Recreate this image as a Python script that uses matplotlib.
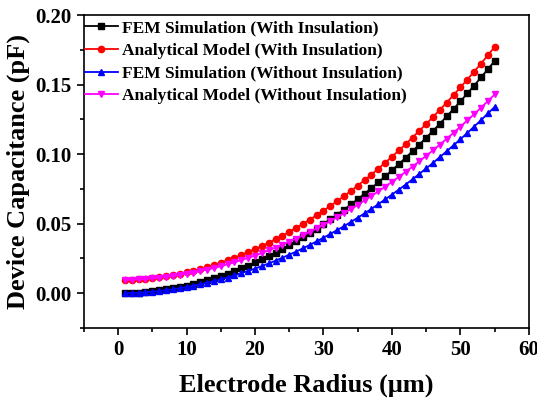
import matplotlib
matplotlib.use("Agg")
import matplotlib.pyplot as plt
from matplotlib.ticker import MultipleLocator

plt.rcParams['font.family'] = ['Liberation Serif', 'DejaVu Serif']
plt.rcParams['font.weight'] = 'bold'

# Electrode radius (um)
radius = list(range(1, 56))

fem_ins = [0.0001, 0.0002, 0.0005, 0.0009, 0.0014, 0.0020, 0.0027, 0.0035, 0.0045, 0.0055,
           0.0067, 0.0079, 0.0093, 0.0108, 0.0124, 0.0141, 0.0160, 0.0179, 0.0199, 0.0221,
           0.0243, 0.0267, 0.0292, 0.0318, 0.0345, 0.0373, 0.0402, 0.0433, 0.0464, 0.0497,
           0.0530, 0.0565, 0.0601, 0.0638, 0.0676, 0.0715, 0.0756, 0.0797, 0.0840, 0.0883,
           0.0928, 0.0974, 0.1021, 0.1069, 0.1118, 0.1168, 0.1219, 0.1272, 0.1325, 0.1380,
           0.1436, 0.1493, 0.1551, 0.1610, 0.1670]

ana_ins = [0.0096, 0.0097, 0.0100, 0.0104, 0.0109, 0.0115, 0.0122, 0.0130, 0.0140, 0.0150,
           0.0162, 0.0175, 0.0189, 0.0204, 0.0220, 0.0237, 0.0255, 0.0275, 0.0295, 0.0317,
           0.0339, 0.0363, 0.0388, 0.0414, 0.0441, 0.0470, 0.0499, 0.0529, 0.0561, 0.0594,
           0.0627, 0.0662, 0.0698, 0.0735, 0.0774, 0.0813, 0.0853, 0.0895, 0.0938, 0.0981,
           0.1026, 0.1072, 0.1119, 0.1168, 0.1217, 0.1267, 0.1319, 0.1371, 0.1425, 0.1480,
           0.1536, 0.1593, 0.1651, 0.1710, 0.1771]

fem_noins = [0.0000, 0.0002, 0.0004, 0.0007, 0.0011, 0.0016, 0.0022, 0.0028, 0.0036, 0.0044,
             0.0054, 0.0064, 0.0075, 0.0087, 0.0100, 0.0113, 0.0128, 0.0144, 0.0160, 0.0177,
             0.0195, 0.0214, 0.0234, 0.0255, 0.0277, 0.0299, 0.0323, 0.0347, 0.0373, 0.0399,
             0.0426, 0.0454, 0.0482, 0.0512, 0.0543, 0.0574, 0.0606, 0.0640, 0.0674, 0.0709,
             0.0745, 0.0781, 0.0819, 0.0858, 0.0897, 0.0937, 0.0979, 0.1021, 0.1064, 0.1107,
             0.1152, 0.1198, 0.1244, 0.1292, 0.1340]

ana_noins = [0.0095, 0.0097, 0.0099, 0.0102, 0.0106, 0.0111, 0.0117, 0.0123, 0.0131, 0.0139,
             0.0148, 0.0159, 0.0170, 0.0181, 0.0194, 0.0208, 0.0222, 0.0238, 0.0254, 0.0271,
             0.0289, 0.0308, 0.0328, 0.0349, 0.0371, 0.0393, 0.0416, 0.0441, 0.0466, 0.0492,
             0.0519, 0.0547, 0.0575, 0.0605, 0.0635, 0.0667, 0.0699, 0.0732, 0.0766, 0.0801,
             0.0836, 0.0873, 0.0910, 0.0949, 0.0988, 0.1028, 0.1069, 0.1111, 0.1154, 0.1198,
             0.1242, 0.1287, 0.1334, 0.1381, 0.1429]

fig = plt.figure(figsize=(5.37, 4.0), dpi=100)
ax = fig.add_axes([0.156, 0.18, 0.829, 0.7825])

ax.plot(radius, fem_ins, '-s', color='black', lw=1.3, ms=4.5,
        label='FEM Simulation (With Insulation)')
ax.plot(radius, ana_ins, '-o', color='red', lw=1.3, ms=4.5,
        label='Analytical Model (With Insulation)')
ax.plot(radius, fem_noins, '-^', color='blue', lw=1.3, ms=5,
        label='FEM Simulation (Without Insulation)')
ax.plot(radius, ana_noins, '-v', color='magenta', lw=1.3, ms=5,
        label='Analytical Model (Without Insulation)')

ax.set_xlim(-5, 60)
ax.set_ylim(-0.025, 0.20)
ax.xaxis.set_major_locator(MultipleLocator(10))
ax.xaxis.set_minor_locator(MultipleLocator(5))
ax.yaxis.set_major_locator(MultipleLocator(0.05))
ax.yaxis.set_minor_locator(MultipleLocator(0.025))
ax.tick_params(which='both', direction='out', top=False, right=False, width=1.2)
ax.tick_params(which='major', length=5, labelsize=15)
ax.tick_params(which='minor', length=3)
for s in ax.spines.values():
    s.set_linewidth(1.2)
ax.yaxis.set_major_formatter(plt.FuncFormatter(lambda v, p: f"{v:.2f}"))

ax.set_xlabel('Electrode Radius (\u03bcm)', fontsize=19, fontweight='bold', labelpad=10)
ax.set_ylabel('Device Capacitance (pF)', fontsize=19, fontweight='bold', labelpad=4)

leg = ax.legend(loc='upper left', frameon=False, fontsize=12.5, handlelength=1.9,
                borderaxespad=0.0, labelspacing=0.38, handletextpad=0.25,
                bbox_to_anchor=(-0.013, 1.006))
for t in leg.get_texts():
    t.set_fontweight('bold')

fig.savefig('out.png', dpi=100)
